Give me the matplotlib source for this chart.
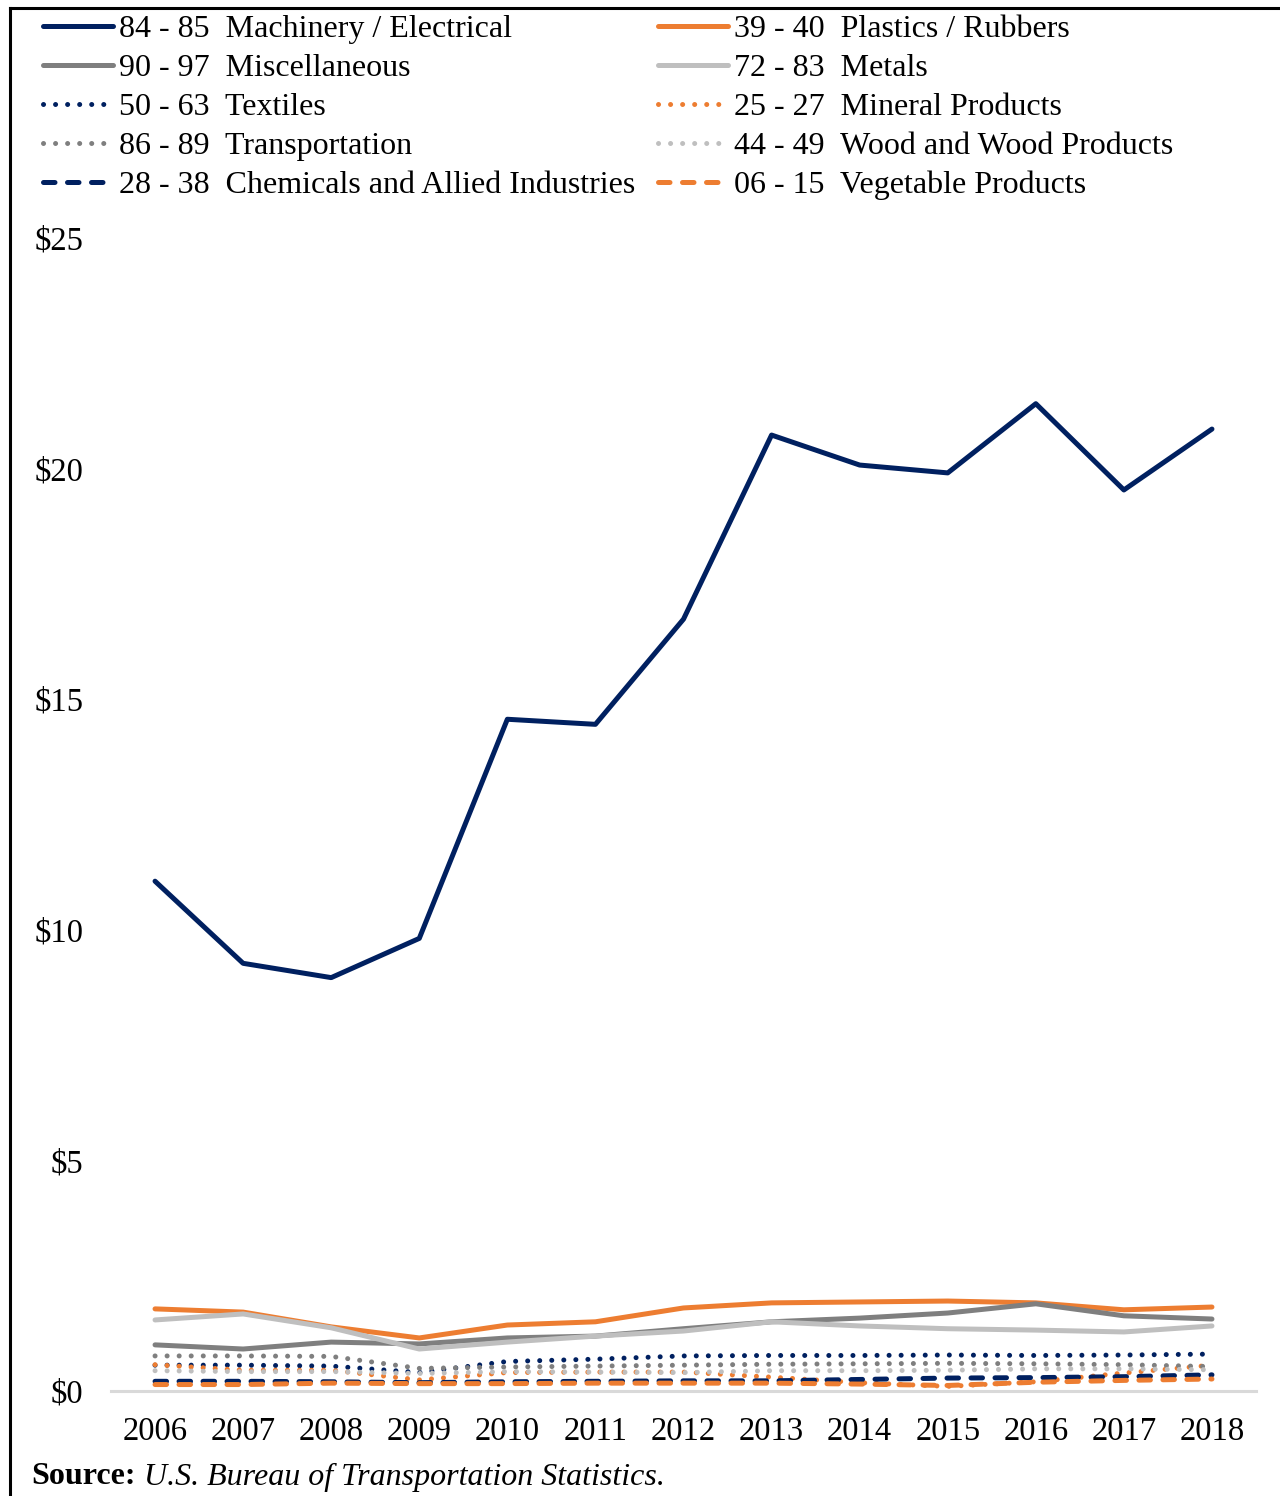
import matplotlib
matplotlib.use("Agg")
import matplotlib.pyplot as plt
from matplotlib.lines import Line2D

years = ["2006", "2007", "2008", "2009", "2010", "2011", "2012",
         "2013", "2014", "2015", "2016", "2017", "2018"]

machinery = [11.05, 9.27, 8.96, 9.81, 14.56, 14.45, 16.73, 20.72, 20.07, 19.90, 21.40, 19.53, 20.85]
plastics = [1.78, 1.71, 1.39, 1.15, 1.43, 1.50, 1.80, 1.91, 1.93, 1.95, 1.91, 1.76, 1.82]
misc = [1.00, 0.91, 1.06, 1.02, 1.15, 1.19, 1.35, 1.50, 1.58, 1.69, 1.89, 1.63, 1.56]
metals = [1.54, 1.67, 1.37, 0.91, 1.06, 1.19, 1.30, 1.50, 1.41, 1.35, 1.32, 1.28, 1.41]
textiles = [0.56, 0.56, 0.54, 0.40, 0.64, 0.69, 0.76, 0.77, 0.77, 0.78, 0.77, 0.78, 0.80]
mineral = [0.57, 0.45, 0.45, 0.24, 0.40, 0.41, 0.41, 0.30, 0.18, 0.10, 0.20, 0.39, 0.56]
transport = [0.76, 0.76, 0.75, 0.49, 0.52, 0.54, 0.56, 0.58, 0.59, 0.60, 0.59, 0.57, 0.53]
wood = [0.44, 0.42, 0.42, 0.38, 0.42, 0.41, 0.40, 0.44, 0.44, 0.45, 0.48, 0.48, 0.46]
chemicals = [0.21, 0.21, 0.20, 0.18, 0.20, 0.21, 0.22, 0.22, 0.25, 0.28, 0.29, 0.31, 0.35]
vegetable = [0.14, 0.14, 0.17, 0.16, 0.16, 0.17, 0.17, 0.17, 0.15, 0.12, 0.19, 0.23, 0.26]

labels = {
    "machinery": "84 - 85  Machinery / Electrical",
    "plastics": "39 - 40  Plastics / Rubbers",
    "misc": "90 - 97  Miscellaneous",
    "metals": "72 - 83  Metals",
    "textiles": "50 - 63  Textiles",
    "mineral": "25 - 27  Mineral Products",
    "transport": "86 - 89  Transportation",
    "wood": "44 - 49  Wood and Wood Products",
    "chemicals": "28 - 38  Chemicals and Allied Industries",
    "vegetable": "06 - 15  Vegetable Products",
}
yticks = [0, 5, 10, 15, 20, 25]
ytick_labels = ["$0", "$5", "$10", "$15", "$20", "$25"]

NAVY = "#002060"
ORANGE = "#ED7D31"
DGRAY = "#7F7F7F"
LGRAY = "#BFBFBF"

plt.rcParams["font.family"] = ["Liberation Serif", "DejaVu Serif"]

fig = plt.figure(figsize=(12.8, 14.96), dpi=100)
L, R = 111 / 1280, 1256 / 1280
B, T = 1 - 1391 / 1496, 1 - 237.6 / 1496
ax = fig.add_axes([L, B, R - L, T - B])

x = list(range(len(years)))
lw = 3.6
dot = (0, (0.01, 2.4))
dash = (0, (2.3, 2.5))

series = [
    ("machinery", machinery, NAVY, "-"),
    ("plastics", plastics, ORANGE, "-"),
    ("misc", misc, DGRAY, "-"),
    ("metals", metals, LGRAY, "-"),
    ("textiles", textiles, NAVY, dot),
    ("mineral", mineral, ORANGE, dot),
    ("transport", transport, DGRAY, dot),
    ("wood", wood, LGRAY, dot),
    ("chemicals", chemicals, NAVY, dash),
    ("vegetable", vegetable, ORANGE, dash),
]
handles = {}
for key, vals, col, ls in series:
    ln, = ax.plot(x, vals, color=col, lw=lw, linestyle=ls,
                  solid_capstyle="round", dash_capstyle="round",
                  solid_joinstyle="round", label=labels[key])
    handles[key] = ln

ax.set_xlim(-0.5, len(years) - 0.5)
ax.set_ylim(0, 25)
ax.set_xticks(x)
ax.set_xticklabels(years)
ax.set_yticks(yticks)
ax.set_yticklabels(ytick_labels)
ax.tick_params(axis="both", length=0, labelsize=23.5, colors="black")
ax.tick_params(axis="y", pad=20)
ax.tick_params(axis="x", pad=18.5)
for s in ["top", "right", "left"]:
    ax.spines[s].set_visible(False)
ax.spines["bottom"].set_color("#D9D9D9")
ax.spines["bottom"].set_linewidth(2.2)

order = ["machinery", "misc", "textiles", "transport", "chemicals",
         "plastics", "metals", "mineral", "wood", "vegetable"]
leg = fig.legend([handles[k] for k in order], [labels[k] for k in order],
                 ncol=2, loc="upper left", bbox_to_anchor=(43 / 1280, 1 - 15 / 1496),
                 frameon=False, fontsize=23, handlelength=2.2, handletextpad=0.19,
                 columnspacing=0.7, labelspacing=0.30, borderaxespad=0, borderpad=0)

# frame edges
fig.add_artist(Line2D([10 / 1280, 1.0], [1 - 8 / 1496, 1 - 8 / 1496],
                      transform=fig.transFigure, color="black", lw=2.2))
fig.add_artist(Line2D([10 / 1280, 10 / 1280], [0, 1 - 8 / 1496],
                      transform=fig.transFigure, color="black", lw=2.2))

t1 = fig.text(31 / 1280, 1 - 1477 / 1496, "Source:", fontsize=23, fontweight="bold",
              va="center", ha="left")
ax.annotate(" U.S. Bureau of Transportation Statistics.", xy=(1, 0), xycoords=t1,
            va="bottom", ha="left", fontsize=23, fontstyle="italic")

fig.savefig("out.png", dpi=100)
